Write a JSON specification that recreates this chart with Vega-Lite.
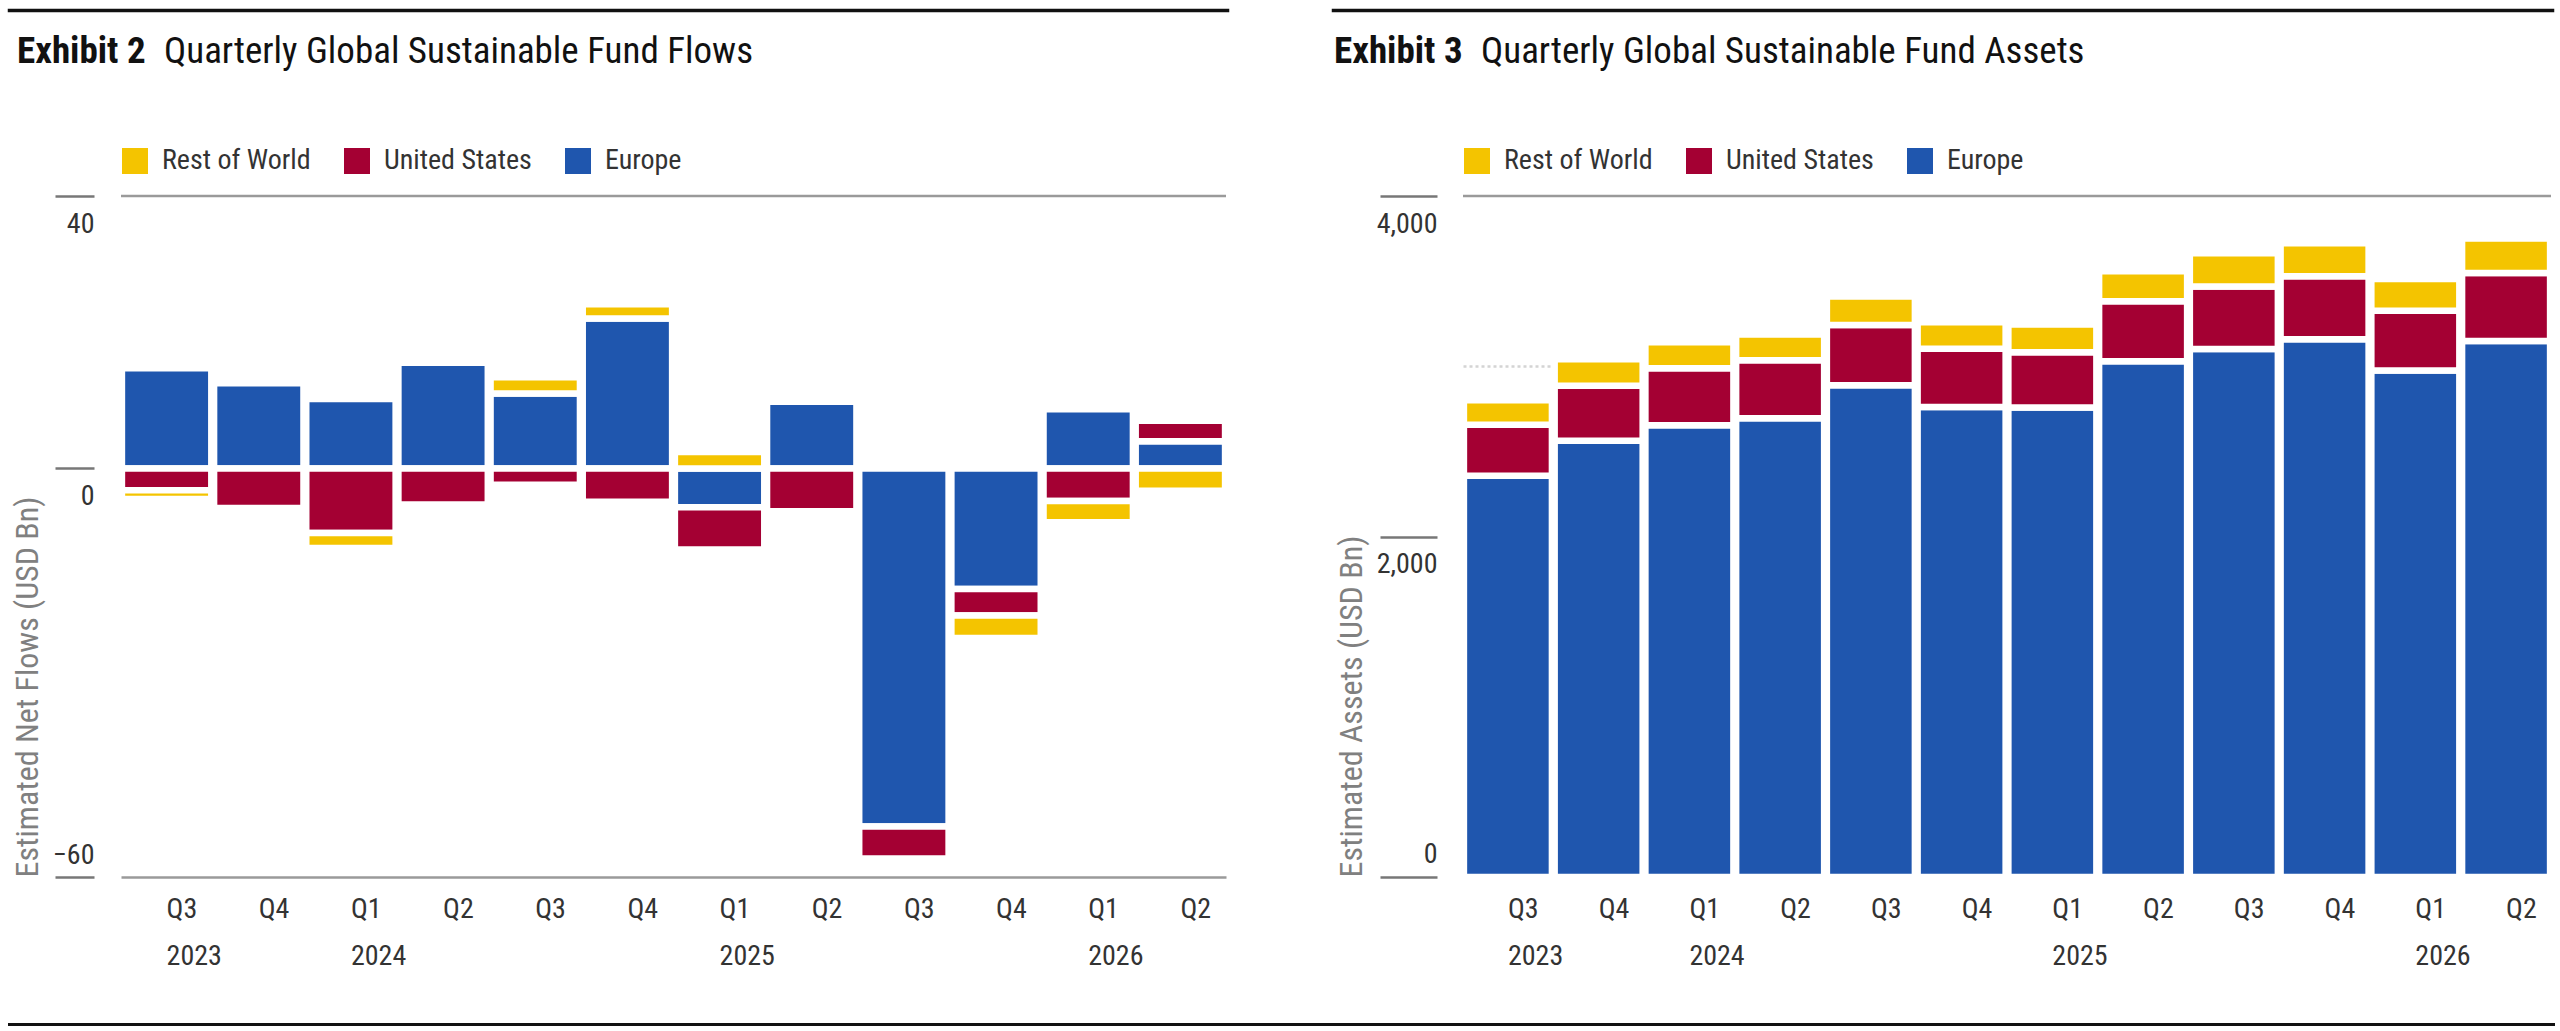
{
  "$schema": "https://vega.github.io/schema/vega-lite/v6.json",
  "background": "white",
  "padding": {"left": 7, "top": 8, "right": 0, "bottom": 0},
  "config": {
    "font": "'Roboto Condensed', 'Liberation Sans Narrow', 'Liberation Sans', sans-serif",
    "view": {"stroke": null},
    "title": {"fontSize": 37, "color": "#111", "fontWeight": "normal", "orient": "top", "anchor": "start", "baseline": "alphabetic", "offset": 55},
    "axisX": {
      "title": null, "domain": true, "domainColor": "#9a9a9a", "domainWidth": 2.5,
      "ticks": false, "bandPosition": 0, "grid": false,
      "labelAlign": "left", "labelBaseline": "top", "labelPadding": 18, "labelAngle": 0,
      "labelLineHeight": 47, "labelFontSize": 28, "labelColor": "#333",
      "labelOverlap": false, "labelFlush": false,
      "labelExpr": "[slice(datum.value, 5), (slice(datum.value, 5) == 'Q1' || datum.value == '2023 Q3') ? slice(datum.value, 0, 4) : '']"
    },
    "axisY": {
      "domain": false, "tickWidth": 2.5, "tickColor": "#777",
      "labelAlign": "right", "labelBaseline": "middle", "labelFontSize": 28, "labelColor": "#333",
      "titleAnchor": "start", "titleFontSize": 32, "titleColor": "#808080", "titleFontWeight": "normal", "titlePadding": 8
    },
    "legend": {
      "title": null, "orient": "top", "direction": "horizontal",
      "symbolType": "square", "symbolSize": 676, "symbolStrokeWidth": 0, "symbolOpacity": 1,
      "labelFontSize": 28, "labelColor": "#333", "labelOffset": 13, "columnPadding": 32,
      "offset": 21.5, "padding": 0, "labelLimit": 400
    }
  },
  "datasets": {
    "flows": [
      {"q": "2023 Q3", "region": "Europe", "value": 14.7},
      {"q": "2023 Q3", "region": "United States", "value": -3.2},
      {"q": "2023 Q3", "region": "Rest of World", "value": -1.3},
      {"q": "2023 Q4", "region": "Europe", "value": 12.5},
      {"q": "2023 Q4", "region": "United States", "value": -5.8},
      {"q": "2024 Q1", "region": "Europe", "value": 10.2},
      {"q": "2024 Q1", "region": "United States", "value": -9.5},
      {"q": "2024 Q1", "region": "Rest of World", "value": -2.2},
      {"q": "2024 Q2", "region": "Europe", "value": 15.5},
      {"q": "2024 Q2", "region": "United States", "value": -5.3},
      {"q": "2024 Q3", "region": "Europe", "value": 11.0},
      {"q": "2024 Q3", "region": "United States", "value": -2.4},
      {"q": "2024 Q3", "region": "Rest of World", "value": 2.4},
      {"q": "2024 Q4", "region": "Europe", "value": 22.0},
      {"q": "2024 Q4", "region": "United States", "value": -4.9},
      {"q": "2024 Q4", "region": "Rest of World", "value": 2.1},
      {"q": "2025 Q1", "region": "Europe", "value": -5.7},
      {"q": "2025 Q1", "region": "United States", "value": -6.2},
      {"q": "2025 Q1", "region": "Rest of World", "value": 2.4},
      {"q": "2025 Q2", "region": "Europe", "value": 9.8},
      {"q": "2025 Q2", "region": "United States", "value": -6.3},
      {"q": "2025 Q3", "region": "Europe", "value": -52.6},
      {"q": "2025 Q3", "region": "United States", "value": -4.7},
      {"q": "2025 Q4", "region": "Europe", "value": -17.7},
      {"q": "2025 Q4", "region": "United States", "value": -3.9},
      {"q": "2025 Q4", "region": "Rest of World", "value": -3.3},
      {"q": "2026 Q1", "region": "Europe", "value": 8.7},
      {"q": "2026 Q1", "region": "United States", "value": -4.8},
      {"q": "2026 Q1", "region": "Rest of World", "value": -3.1},
      {"q": "2026 Q2", "region": "Europe", "value": 4.0},
      {"q": "2026 Q2", "region": "United States", "value": 3.0},
      {"q": "2026 Q2", "region": "Rest of World", "value": -3.3}
    ],
    "assets": [
      {"q": "2023 Q3", "region": "Europe", "value": 2357},
      {"q": "2023 Q3", "region": "United States", "value": 299},
      {"q": "2023 Q3", "region": "Rest of World", "value": 145},
      {"q": "2023 Q4", "region": "Europe", "value": 2562},
      {"q": "2023 Q4", "region": "United States", "value": 324},
      {"q": "2023 Q4", "region": "Rest of World", "value": 155},
      {"q": "2024 Q1", "region": "Europe", "value": 2653},
      {"q": "2024 Q1", "region": "United States", "value": 335},
      {"q": "2024 Q1", "region": "Rest of World", "value": 153},
      {"q": "2024 Q2", "region": "Europe", "value": 2694},
      {"q": "2024 Q2", "region": "United States", "value": 341},
      {"q": "2024 Q2", "region": "Rest of World", "value": 151},
      {"q": "2024 Q3", "region": "Europe", "value": 2888},
      {"q": "2024 Q3", "region": "United States", "value": 354},
      {"q": "2024 Q3", "region": "Rest of World", "value": 167},
      {"q": "2024 Q4", "region": "Europe", "value": 2761},
      {"q": "2024 Q4", "region": "United States", "value": 342},
      {"q": "2024 Q4", "region": "Rest of World", "value": 155},
      {"q": "2025 Q1", "region": "Europe", "value": 2757},
      {"q": "2025 Q1", "region": "United States", "value": 325},
      {"q": "2025 Q1", "region": "Rest of World", "value": 163},
      {"q": "2025 Q2", "region": "Europe", "value": 3029},
      {"q": "2025 Q2", "region": "United States", "value": 353},
      {"q": "2025 Q2", "region": "Rest of World", "value": 176},
      {"q": "2025 Q3", "region": "Europe", "value": 3102},
      {"q": "2025 Q3", "region": "United States", "value": 367},
      {"q": "2025 Q3", "region": "Rest of World", "value": 195},
      {"q": "2025 Q4", "region": "Europe", "value": 3159},
      {"q": "2025 Q4", "region": "United States", "value": 369},
      {"q": "2025 Q4", "region": "Rest of World", "value": 195},
      {"q": "2026 Q1", "region": "Europe", "value": 2975},
      {"q": "2026 Q1", "region": "United States", "value": 351},
      {"q": "2026 Q1", "region": "Rest of World", "value": 187},
      {"q": "2026 Q2", "region": "Europe", "value": 3148},
      {"q": "2026 Q2", "region": "United States", "value": 399},
      {"q": "2026 Q2", "region": "Rest of World", "value": 204}
    ]
  },
  "vconcat": [
    {
      "hconcat": [
        {
          "vconcat": [
            {
              "data": {"values": []}, "mark": "point", "width": 1219, "height": 1,
              "view": {"stroke": "#111", "strokeWidth": 2.5}
            },
            {
              "hconcat": [
                {
                  "data": {"values": []}, "mark": "point", "width": 1, "height": 1,
                  "title": {"text": "Exhibit 2", "fontWeight": "bold", "dx": 8}
                },
                {
                  "data": {"values": []}, "mark": "point", "width": 1066, "height": 1,
                  "title": {"text": "Quarterly Global Sustainable Fund Flows"}
                }
              ],
              "spacing": 18
            },
            {
              "hconcat": [
                {"data": {"values": []}, "mark": "point", "width": 1, "height": 1},
                {
                  "data": {"name": "flows"},
                  "width": 1105,
                  "height": 681,
                  "transform": [
                    {"calculate": "indexof(['Europe', 'United States', 'Rest of World'], datum.region)", "as": "stackOrder"}
                  ],
                  "layer": [
                    {
                      "mark": {"type": "bar", "stroke": "white", "strokeWidth": 6.5},
                      "encoding": {
                        "x": {"field": "q", "type": "nominal", "sort": null, "scale": {"paddingInner": 0.03, "paddingOuter": 0.01}},
                        "y": {
                          "field": "value", "type": "quantitative", "stack": "zero",
                          "scale": {"domain": [-60, 40], "nice": false},
                          "axis": {
                            "title": "Estimated Net Flows (USD Bn)",
                            "values": [-60, 0, 40],
                            "grid": false,
                            "offset": 27, "tickSize": 39, "labelPadding": -39,
                            "labelOffset": {"condition": {"test": "datum.value < 0", "value": -22}, "value": 28}
                          }
                        },
                        "color": {
                          "field": "region", "type": "nominal",
                          "scale": {"domain": ["Rest of World", "United States", "Europe"], "range": ["#F4C400", "#A40033", "#1F56AE"]}
                        },
                        "order": {"field": "stackOrder", "type": "quantitative"}
                      }
                    },
                    {
                      "data": {"values": [{}]},
                      "mark": {"type": "rule", "color": "#9a9a9a", "strokeWidth": 2.5},
                      "encoding": {"y": {"datum": 40, "type": "quantitative"}}
                    }
                  ]
                }
              ],
              "spacing": 1,
              "resolve": {"legend": {"color": "independent"}, "scale": {"color": "independent"}}
            }
          ],
          "spacing": 20,
          "resolve": {"legend": {"color": "independent"}, "scale": {"color": "independent"}}
        },
        {
          "vconcat": [
            {
              "data": {"values": []}, "mark": "point", "width": 1220, "height": 1,
              "view": {"stroke": "#111", "strokeWidth": 2.5}
            },
            {
              "hconcat": [
                {
                  "data": {"values": []}, "mark": "point", "width": 1, "height": 1,
                  "title": {"text": "Exhibit 3", "fontWeight": "bold", "dx": 1}
                },
                {
                  "data": {"values": []}, "mark": "point", "width": 1074, "height": 1,
                  "title": {"text": "Quarterly Global Sustainable Fund Assets"}
                }
              ],
              "spacing": 18
            },
            {
              "hconcat": [
                {"data": {"values": []}, "mark": "point", "width": 1, "height": 1},
                {
                  "data": {"name": "assets"},
                  "width": 1088,
                  "height": 681,
                  "transform": [
                    {"calculate": "indexof(['Europe', 'United States', 'Rest of World'], datum.region)", "as": "stackOrder"}
                  ],
                  "layer": [
                    {
                      "mark": {"type": "bar", "stroke": "white", "strokeWidth": 6.5},
                      "encoding": {
                        "x": {"field": "q", "type": "nominal", "sort": null, "scale": {"paddingInner": 0.03, "paddingOuter": 0.01}},
                        "y": {
                          "field": "value", "type": "quantitative", "stack": "zero",
                          "scale": {"domain": [0, 4000], "nice": false},
                          "axis": {
                            "title": "Estimated Assets (USD Bn)",
                            "values": [0, 1000, 2000, 3000, 4000],
                            "labelExpr": "datum.value % 2000 == 0 ? format(datum.value, ',') : ''",
                            "grid": true, "gridDash": [3, 3], "gridColor": "#d4d4d4", "gridWidth": 2.5,
                            "gridOpacity": {"condition": {"test": "datum.value == 0 || datum.value == 4000", "value": 0}, "value": 1},
                            "tickOpacity": {"condition": {"test": "datum.value % 2000 != 0", "value": 0}, "value": 1},
                            "offset": 26, "tickSize": 57, "labelPadding": -57,
                            "labelOffset": {"condition": {"test": "datum.value == 0", "value": -23}, "value": 28}
                          }
                        },
                        "color": {
                          "field": "region", "type": "nominal",
                          "scale": {"domain": ["Rest of World", "United States", "Europe"], "range": ["#F4C400", "#A40033", "#1F56AE"]}
                        },
                        "order": {"field": "stackOrder", "type": "quantitative"}
                      }
                    },
                    {
                      "data": {"values": [{}]},
                      "mark": {"type": "rule", "color": "#9a9a9a", "strokeWidth": 2.5},
                      "encoding": {"y": {"datum": 4000, "type": "quantitative"}}
                    }
                  ]
                }
              ],
              "spacing": 1,
              "resolve": {"legend": {"color": "independent"}, "scale": {"color": "independent"}}
            }
          ],
          "spacing": 20,
          "resolve": {"legend": {"color": "independent"}, "scale": {"color": "independent"}}
        }
      ],
      "spacing": 101,
      "resolve": {"legend": {"color": "independent"}, "scale": {"color": "independent"}}
    },
    {
      "data": {"values": []}, "mark": "point", "width": 2545, "height": 1,
      "view": {"stroke": "#111", "strokeWidth": 2}
    }
  ],
  "spacing": 53,
  "resolve": {"legend": {"color": "independent"}, "scale": {"color": "independent"}}
}
